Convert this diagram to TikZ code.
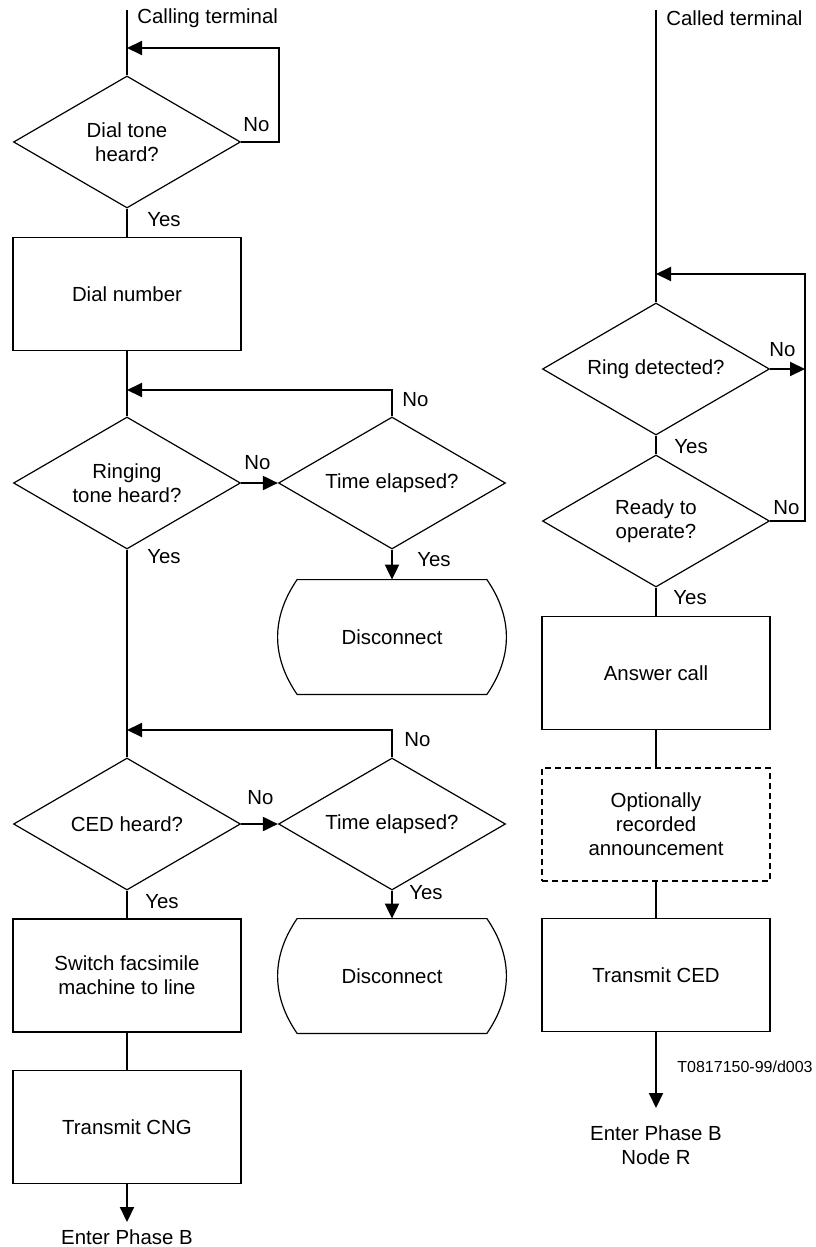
\documentclass[tikz,border=0pt]{standalone}
\usepackage{fontspec}
\setmainfont{Liberation Sans}
\usetikzlibrary{shapes.geometric,arrows.meta,calc}

\tikzset{
  txt/.style={font=\fontsize{10.2}{12}\selectfont, align=center},
  lbl/.style={font=\fontsize{10.2}{12}\selectfont, inner sep=0pt, anchor=west},
  dec/.style={txt, draw, line width=0.6pt, diamond, aspect=1.72, minimum width=113.5pt, minimum height=66pt, inner sep=0pt},
  box/.style={txt, draw, line width=0.6pt, rectangle, minimum width=114pt, minimum height=56.5pt},
  optbox/.style={box, dash pattern=on 3pt off 2pt},
  term/.style={txt, rectangle, minimum width=114.5pt, minimum height=57pt},
  flow/.style={line width=1pt},
  arr/.style={flow, -{Triangle[length=7.5pt,width=7pt]}}
}

\begin{document}
\begin{tikzpicture}[x=0.5pt, y=-0.5pt]
\useasboundingbox (0,0) rectangle (815,1247);
% calling terminal
\coordinate (cstart) at (127,10);
\coordinate (dloop) at (127,48);
\coordinate (rloop) at (127,390);
\coordinate (cloop) at (127,730);
\coordinate (lend) at (127,1222);
\node[lbl] (ctitle) at (137,18) {Calling terminal};
\node[dec] (dial) at (127,142) {Dial tone\\heard?};
\node[box] (dnum) at (127,294) {Dial number};
\node[dec] (ring) at (127,483) {Ringing\\tone heard?};
\node[dec] (time1) at (392,483) {Time elapsed?};
\node[term] (disc1) at (392,637) {Disconnect};
\node[dec] (ced) at (127,824) {CED heard?};
\node[dec] (time2) at (392,824) {Time elapsed?};
\node[term] (disc2) at (392,976) {Disconnect};
\node[box] (swit) at (127,975.5) {Switch facsimile\\machine to line};
\node[box] (cng) at (127,1127) {Transmit CNG};
\node[txt] (phb) at (127,1237) {Enter Phase B};

\foreach \d in {disc1,disc2}{
  \draw[line width=0.6pt] ($(\d.north west)+(20,0)$) -- ($(\d.north east)+(-20,0)$)
    .. controls ($(\d.north east)+(6,38)$) and ($(\d.south east)+(6,-38)$) .. ($(\d.south east)+(-20,0)$)
    -- ($(\d.south west)+(20,0)$)
    .. controls ($(\d.south west)+(-6,-38)$) and ($(\d.north west)+(-6,38)$) .. cycle;
}

\draw[flow] (cstart) -- (dial.north);
\draw[arr] (dial.east) -- ++(38,0) |- (dloop);
\draw[flow] (dial.south) -- (dnum.north);
\draw[flow] (dnum.south) -- (ring.north);
\draw[arr] (ring.east) -- (time1.west);
\draw[arr] (time1.north) |- (rloop);
\draw[arr] (time1.south) -- (disc1.north);
\draw[flow] (ring.south) -- (ced.north);
\draw[arr] (ced.east) -- (time2.west);
\draw[arr] (time2.north) |- (cloop);
\draw[arr] (time2.south) -- (disc2.north);
\draw[flow] (ced.south) -- (swit.north);
\draw[flow] (swit.south) -- (cng.north);
\draw[arr] (cng.south) -- (lend);

\node[lbl] (dno) at (243,125) {No};
\node[lbl] (dyes) at (147,220) {Yes};
\node[lbl] (rno) at (244,463) {No};
\node[lbl] (ryes) at (147,557) {Yes};
\node[lbl] (t1no) at (402,400) {No};
\node[lbl] (t1yes) at (417,560) {Yes};
\node[lbl] (cno) at (247,798) {No};
\node[lbl] (cyes) at (145,902) {Yes};
\node[lbl] (t2no) at (404,740) {No};
\node[lbl] (t2yes) at (409,893) {Yes};

% called terminal
\coordinate (rstart) at (656,10);
\coordinate (aloop) at (656,274);
\coordinate (aside) at (805,369);
\coordinate (rend) at (656,1108);
\node[lbl] (rtitle) at (666,18) {Called terminal};
\node[dec] (rdet) at (656,369) {Ring detected?};
\node[dec] (rdy) at (656,521) {Ready to\\operate?};
\node[box] (ans) at (656,673) {Answer call};
\node[optbox] (opt) at (656,824.5) {Optionally\\recorded\\announcement};
\node[box] (tced) at (656,975) {Transmit CED};
\node[txt] (phr) at (656,1145.5) {Enter Phase B\\Node R};
\node[lbl, font=\fontsize{8}{10}\selectfont] (ref) at (677,1067) {T0817150-99/d003};

\draw[flow] (rstart) -- (rdet.north);
\draw[arr] (rdet.east) -- (aside);
\draw[arr] (rdy.east) -- ++(35,0) |- (aloop);
\draw[flow] (rdet.south) -- (rdy.north);
\draw[flow] (rdy.south) -- (ans.north);
\draw[flow] (ans.south) -- (opt.north);
\draw[flow] (opt.south) -- (tced.north);
\draw[arr] (tced.south) -- (rend);

\node[lbl] (rdno) at (769,350) {No};
\node[lbl] (rdyes) at (674,447) {Yes};
\node[lbl] (rdyno) at (773,508) {No};
\node[lbl] (rdyyes) at (673,598) {Yes};
\end{tikzpicture}
\end{document}
